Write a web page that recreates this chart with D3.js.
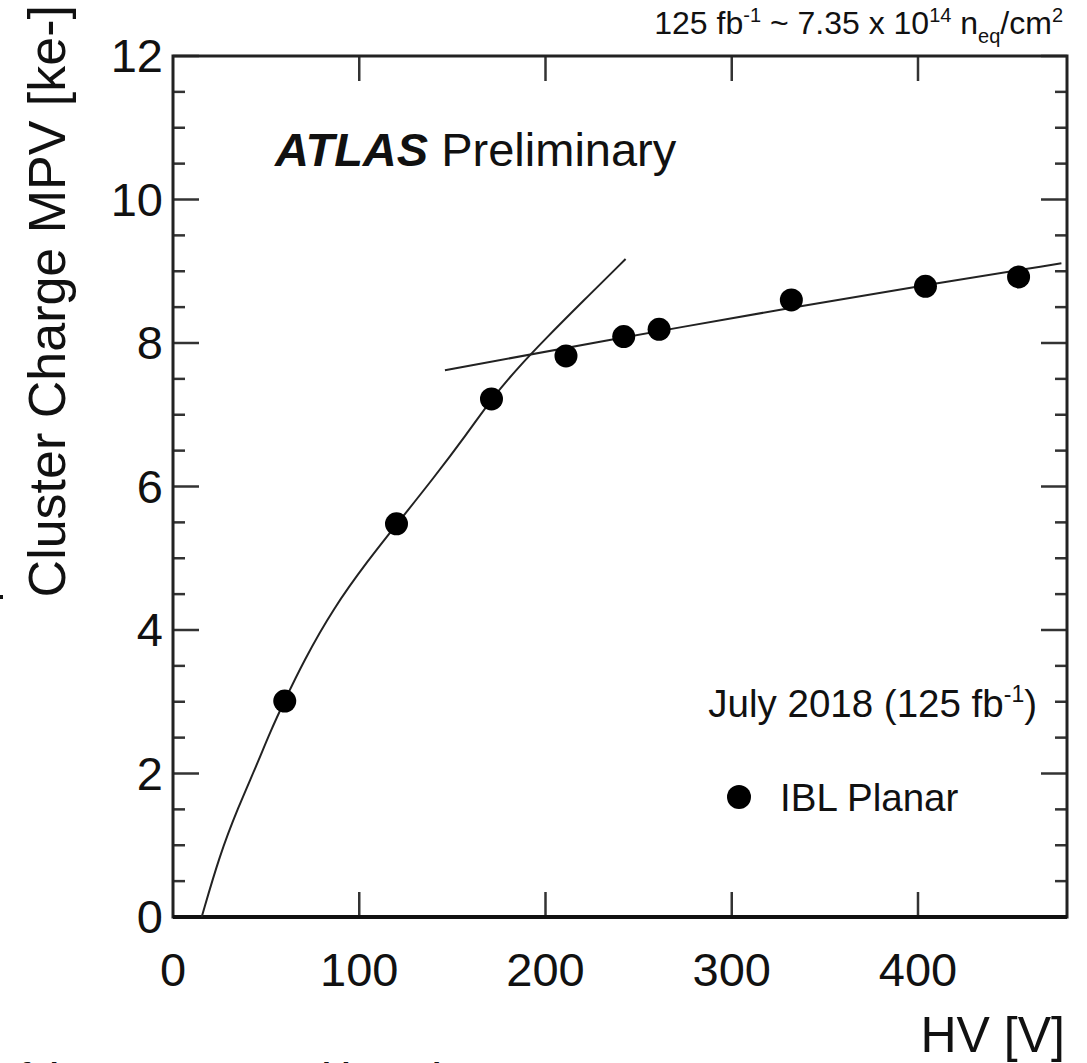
<!DOCTYPE html>
<html>
<head>
<meta charset="utf-8">
<script src="https://cdn.jsdelivr.net/npm/d3@7"></script>
<style>
body { margin:0; background:#fff; }
text { font-family:"Liberation Sans", Arial, sans-serif; fill:#111; }
</style>
</head>
<body>
<svg id="chart" width="1087" height="1063"></svg>
<script>
// measured points (IBL Planar)
var hv  = [60, 120, 171, 211, 242, 261, 332, 404, 454];
var mpv = [3.01, 5.48, 7.22, 7.82, 8.09, 8.19, 8.6, 8.79, 8.92];

// low voltage fit curve
var fitLowHV  = [15.4, 25, 35, 45, 52, 60, 70, 86, 105, 120, 140, 158, 171, 185, 200, 220, 243];
var fitLowMPV = [0, 0.86, 1.53, 2.12, 2.57, 3.02, 3.56, 4.3, 4.98, 5.47, 6.12, 6.74, 7.22, 7.65, 8.06, 8.58, 9.17];

// high voltage fit line
var fitHighHV  = [146, 229, 340, 409, 477];
var fitHighMPV = [7.62, 8.02, 8.53, 8.83, 9.11];

var xMajor = [100, 200, 300, 400];
var xLabels = [0, 100, 200, 300, 400];
var yMajor = [0, 2, 4, 6, 8, 10, 12];

var svg = d3.select("#chart");
svg.append("rect").attr("width",1087).attr("height",1063).attr("fill","#fff");

var x = d3.scaleLinear().domain([0,480]).range([173,1067]);
var y = d3.scaleLinear().domain([0,12]).range([917,56]);

var yMinor = d3.range(0, 12.01, 0.5).filter(function(v){ return v % 2 != 0; });

// ticks inside the frame, on all four sides
var g = svg.append("g").attr("stroke","#333").attr("stroke-width",2.5);
xMajor.forEach(function(v){
    g.append("line").attr("x1",x(v)).attr("x2",x(v)).attr("y1",y(0)).attr("y2",y(0)-25);
    g.append("line").attr("x1",x(v)).attr("x2",x(v)).attr("y1",y(12)).attr("y2",y(12)+25);
});
yMajor.forEach(function(v){
    g.append("line").attr("x1",x(0)).attr("x2",x(0)+26).attr("y1",y(v)).attr("y2",y(v));
    g.append("line").attr("x1",x(480)).attr("x2",x(480)-26).attr("y1",y(v)).attr("y2",y(v));
});
yMinor.forEach(function(v){
    g.append("line").attr("x1",x(0)).attr("x2",x(0)+12).attr("y1",y(v)).attr("y2",y(v));
    g.append("line").attr("x1",x(480)).attr("x2",x(480)-12).attr("y1",y(v)).attr("y2",y(v));
});

// frame
svg.append("rect").attr("x",x(0)).attr("y",y(12)).attr("width",x(480)-x(0)).attr("height",y(0)-y(12))
    .attr("fill","none").attr("stroke","#222").attr("stroke-width",3);
svg.append("line").attr("x1",x(0)).attr("x2",x(480)).attr("y1",y(0)).attr("y2",y(0))
    .attr("stroke","#111").attr("stroke-width",4);

// tick labels
svg.selectAll(".xl").data(xLabels).enter().append("text")
    .attr("x",function(d){ return x(d); }).attr("y",986)
    .attr("text-anchor","middle").attr("font-size",47)
    .text(function(d){ return d; });
svg.selectAll(".yl").data(yMajor).enter().append("text")
    .attr("x",163).attr("y",function(d){ return y(d) + 16; })
    .attr("text-anchor","end").attr("font-size",47)
    .text(function(d){ return d; });

// axis titles
svg.append("text").attr("x",1065).attr("y",1052).attr("text-anchor","end")
    .attr("font-size",50).text("HV [V]");
svg.append("text").attr("transform","translate(65,5) rotate(-90)").attr("text-anchor","end")
    .attr("font-size",52).text("Cluster Charge MPV [ke-]");

// fit curves
var line = d3.line().curve(d3.curveBasis);
svg.append("clipPath").attr("id","plotclip").append("rect")
    .attr("x",x(0)).attr("y",y(12)).attr("width",x(480)-x(0)).attr("height",y(0)-y(12));
svg.append("path")
    .attr("d", line(fitLowHV.map(function(v,i){ return [x(v), y(fitLowMPV[i])]; })))
    .attr("fill","none").attr("stroke","#222").attr("stroke-width",2)
    .attr("clip-path","url(#plotclip)");
svg.append("path")
    .attr("d", line(fitHighHV.map(function(v,i){ return [x(v), y(fitHighMPV[i])]; })))
    .attr("fill","none").attr("stroke","#222").attr("stroke-width",2)
    .attr("clip-path","url(#plotclip)");

// points
svg.selectAll(".pt").data(hv).enter().append("circle")
    .attr("cx",function(d){ return x(d); })
    .attr("cy",function(d,i){ return y(mpv[i]); })
    .attr("r",11.5).attr("fill","#000");

// labels
var atlas = svg.append("text").attr("x",275).attr("y",166).attr("font-size",47);
atlas.append("tspan").attr("font-weight","bold").attr("font-style","italic").text("ATLAS");
atlas.append("tspan").text(" Preliminary");

var lumi = svg.append("text").attr("x",1037).attr("y",717).attr("text-anchor","end").attr("font-size",38.5);
lumi.append("tspan").text("July 2018 (125 fb");
lumi.append("tspan").attr("font-size",23).attr("dy",-15).text("-1");
lumi.append("tspan").attr("dy",15).text(")");

svg.append("circle").attr("cx",739).attr("cy",797).attr("r",12).attr("fill","#000");
svg.append("text").attr("x",780).attr("y",811).attr("font-size",38.5).text("IBL Planar");

var flu = svg.append("text").attr("x",1063).attr("y",34).attr("text-anchor","end").attr("font-size",32);
flu.append("tspan").text("125 fb");
flu.append("tspan").attr("font-size",20).attr("dy",-12).text("-1");
flu.append("tspan").attr("dy",12).text(" ~ 7.35 x 10");
flu.append("tspan").attr("font-size",20).attr("dy",-12).text("14");
flu.append("tspan").attr("dy",12).text(" n");
flu.append("tspan").attr("font-size",20).attr("dy",9).text("eq");
flu.append("tspan").attr("dy",-9).text("/cm");
flu.append("tspan").attr("font-size",20).attr("dy",-12).text("2");

// cut-off caption below the figure
svg.append("text").attr("x",0).attr("y",1085).attr("font-size",32).attr("font-weight","bold")
    .text("of the sensor versus bias voltage");
svg.append("rect").attr("x",0).attr("y",595).attr("width",3).attr("height",4).attr("fill","#111");
</script>
</body>
</html>
